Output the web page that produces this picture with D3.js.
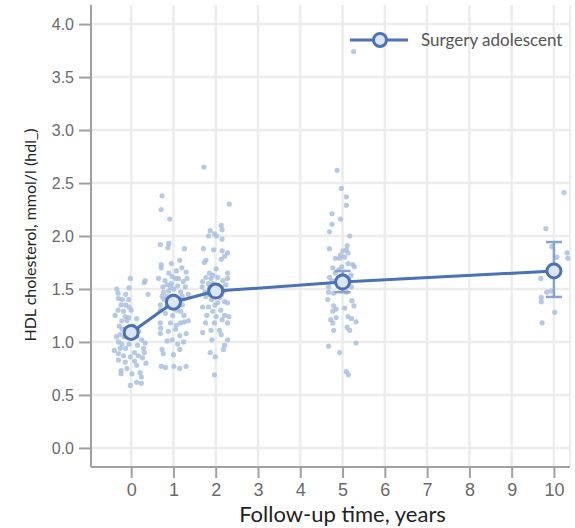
<!DOCTYPE html>
<html>
<head>
<meta charset="utf-8">
<script src="https://cdn.jsdelivr.net/npm/d3@7"></script>
<style>
  html, body { margin: 0; padding: 0; background: #fff; }
  svg { display: block; font-family: "Source Sans Pro", Lato, "Open Sans", sans-serif; }
</style>
</head>
<body>
<svg id="chart" width="575" height="528"></svg>
<script>
// ---- data ----
const times = [0, 1, 2, 5, 10];
const means = [1.09, 1.375, 1.48, 1.565, 1.67];
const ciLow = [1.05, 1.34, 1.44, 1.47, 1.425];
const ciHigh = [1.13, 1.41, 1.52, 1.67, 1.943];
const xTicks = [0, 1, 2, 3, 4, 5, 6, 7, 8, 9, 10];
const yTicks = [0, 0.5, 1, 1.5, 2, 2.5, 3, 3.5, 4];
const seriesName = "Surgery adolescent";

// individual observations: [jitter offset (years), value]
const obs0 = [[-0.02,1.60],[0.33,1.58],[0.31,1.56],[-0.34,1.50],[-0.05,1.51],[-0.31,1.46],[-0.13,1.45],[-0.30,1.41],[-0.06,1.40],[-0.21,1.40],[-0.24,1.35],[-0.13,1.35],[-0.05,1.33],[-0.31,1.30],[-0.18,1.29],[-0.14,1.24],[-0.06,1.23],[0.13,1.22],[-0.22,1.20],[-0.10,1.20],[-0.28,1.15],[-0.21,1.12],[-0.26,1.07],[-0.16,1.05],[0.25,1.02],[0.33,0.99],[-0.30,1.00],[-0.22,0.98],[-0.05,0.98],[-0.26,0.94],[-0.13,0.94],[0.29,0.94],[0.31,0.90],[-0.30,0.89],[0.08,0.90],[-0.18,0.87],[-0.02,0.86],[0.17,0.87],[0.27,0.85],[0.08,0.82],[-0.14,0.81],[0.13,0.78],[-0.24,0.73],[-0.24,0.70],[0.21,0.71],[0.02,0.70],[0.24,0.67],[-0.02,0.59],[0.13,0.62],[0.24,0.61],[-0.38,1.25],[0.05,1.15],[0.18,1.10],[-0.35,1.05],[0.10,1.05],[-0.40,0.92],[0.35,0.80],[-0.10,0.75],[0.00,1.30],[0.40,1.45],[-0.30,0.83],[0.15,0.97]];
const obs1 = [[-0.27,2.38],[-0.29,2.25],[-0.09,2.16],[-0.31,1.92],[-0.11,1.93],[-0.13,1.89],[0.26,1.88],[0.15,1.77],[-0.29,1.73],[-0.29,1.70],[0.07,1.67],[0.30,1.66],[-0.11,1.65],[-0.03,1.62],[0.05,1.60],[0.12,1.60],[0.32,1.60],[0.23,1.57],[-0.15,1.54],[-0.07,1.52],[-0.23,1.47],[-0.11,1.48],[0.01,1.50],[0.17,1.47],[-0.27,1.43],[-0.15,1.43],[0.21,1.43],[-0.31,1.35],[-0.15,1.33],[0.21,1.35],[-0.31,1.30],[-0.19,1.27],[0.17,1.29],[-0.31,1.18],[-0.07,1.18],[0.07,1.16],[0.17,1.18],[0.26,1.19],[-0.31,1.08],[0.30,1.08],[0.15,1.06],[-0.15,1.01],[-0.03,1.02],[0.24,1.00],[-0.27,0.93],[0.15,0.93],[-0.24,0.89],[-0.29,0.77],[-0.19,0.76],[0.01,0.77],[0.15,0.75],[0.30,0.77],[-0.05,1.55],[0.10,1.53],[-0.20,1.58],[0.00,1.42],[0.12,1.40],[-0.08,1.38],[0.28,1.52],[-0.25,1.52],[0.08,1.30],[-0.02,1.25],[0.25,1.25],[-0.22,1.40],[0.35,1.45],[-0.35,1.60],[0.05,1.12],[-0.12,1.10],[0.10,0.98],[-0.30,1.13],[0.20,1.70],[-0.05,1.74],[0.35,1.20],[0.00,0.88]];
const obs2 = [[-0.28,2.65],[0.32,2.30],[0.13,2.10],[0.15,2.06],[-0.13,2.05],[-0.17,2.00],[-0.03,2.02],[0.02,2.00],[0.15,1.97],[-0.29,1.88],[-0.05,1.87],[0.15,1.86],[0.28,1.84],[0.21,1.81],[-0.23,1.77],[0.13,1.78],[-0.27,1.75],[0.01,1.69],[0.28,1.65],[-0.15,1.65],[-0.07,1.63],[-0.23,1.61],[-0.11,1.60],[0.05,1.61],[0.17,1.58],[0.28,1.60],[-0.31,1.57],[-0.17,1.55],[-0.07,1.55],[-0.32,1.52],[0.24,1.54],[-0.15,1.50],[-0.23,1.43],[0.05,1.37],[0.21,1.38],[0.28,1.37],[-0.31,1.33],[-0.17,1.33],[-0.07,1.29],[-0.21,1.25],[0.01,1.24],[0.21,1.25],[0.31,1.24],[0.15,1.21],[-0.03,1.18],[-0.24,1.18],[0.28,1.18],[0.09,1.11],[-0.11,1.11],[-0.31,1.09],[0.13,1.07],[0.28,1.02],[-0.09,1.02],[0.21,0.97],[0.18,0.93],[-0.13,0.90],[-0.01,0.86],[-0.03,0.69],[0.00,1.45],[0.10,1.42],[-0.10,1.40],[0.20,1.48],[-0.25,1.47],[0.08,1.52],[-0.02,1.35],[0.12,1.30]];
const obs5 = [[0.26,3.74],[-0.13,2.62],[-0.03,2.45],[0.09,2.37],[0.09,2.29],[-0.25,2.21],[-0.25,2.11],[-0.05,2.16],[-0.31,2.04],[0.17,2.00],[-0.31,1.88],[0.11,1.91],[0.09,1.87],[0.01,1.86],[-0.05,1.82],[0.13,1.84],[-0.17,1.79],[-0.07,1.79],[0.05,1.80],[0.13,1.74],[0.24,1.73],[-0.23,1.70],[-0.02,1.71],[0.28,1.71],[-0.31,1.61],[-0.17,1.65],[-0.09,1.68],[-0.33,1.52],[0.21,1.52],[-0.33,1.47],[-0.21,1.46],[0.09,1.47],[-0.35,1.40],[0.22,1.39],[0.27,1.34],[-0.21,1.34],[-0.15,1.31],[0.05,1.32],[-0.23,1.29],[-0.15,1.23],[-0.28,1.21],[-0.23,1.18],[0.13,1.24],[0.21,1.22],[0.32,1.19],[0.11,1.14],[0.17,1.11],[-0.21,1.11],[-0.33,0.96],[-0.07,0.90],[0.32,0.99],[0.09,0.72],[0.14,0.69],[0.00,1.62],[0.15,1.60],[-0.10,1.58],[0.20,1.63],[-0.25,1.58],[0.05,1.52]];
const obs10 = [[0.24,2.41],[-0.19,2.07],[-0.05,1.90],[0.07,1.80],[0.31,1.84],[0.33,1.79],[-0.31,1.60],[-0.17,1.47],[-0.07,1.48],[-0.30,1.42],[-0.30,1.38],[0.02,1.28],[-0.28,1.18]];
const observations = [obs0, obs1, obs2, obs5, obs10];

// ---- layout ----
const svg = d3.select("#chart");
const plotL = 91, plotR = 570, plotT = 5, plotB = 467;
const x = d3.scaleLinear().domain([-0.95, 10.38]).range([plotL, plotR]);
const y = d3.scaleLinear().domain([-0.18, 4.18]).range([plotB, plotT]);

const colLine = "#4a72b4";
const colFill = "#dce5f2";
const colPts = "#a9bfe0";
const colErr = "#86a3d0";

// grid
const grid = svg.append("g");
grid.selectAll("line.h").data(yTicks).join("line")
  .attr("x1", plotL).attr("x2", plotR)
  .attr("y1", d => y(d)).attr("y2", d => y(d))
  .attr("stroke", "#ececec").attr("stroke-width", 2.5);
grid.selectAll("line.v").data(xTicks).join("line")
  .attr("x1", d => x(d)).attr("x2", d => x(d))
  .attr("y1", plotT).attr("y2", plotB)
  .attr("stroke", "#ececec").attr("stroke-width", 2.5);
grid.append("line").attr("x1", plotR).attr("x2", plotR).attr("y1", plotT).attr("y2", plotB)
  .attr("stroke", "#ececec").attr("stroke-width", 2);

// observations
const ptsG = svg.append("g");
times.forEach((t, i) => {
  ptsG.selectAll(null).data(observations[i]).join("circle")
    .attr("cx", d => x(t + d[0]))
    .attr("cy", d => y(d[1]))
    .attr("r", 2.6)
    .attr("fill", colPts)
    .attr("fill-opacity", 0.85);
});

// error bars
const errG = svg.append("g").attr("stroke", colErr).attr("stroke-width", 2.5).attr("fill", "none");
times.forEach((t, i) => {
  errG.append("line").attr("x1", x(t)).attr("x2", x(t)).attr("y1", y(ciLow[i])).attr("y2", y(ciHigh[i]));
  [ciLow[i], ciHigh[i]].forEach(v => {
    errG.append("line").attr("x1", x(t) - 8).attr("x2", x(t) + 8).attr("y1", y(v)).attr("y2", y(v));
  });
});

// mean line
const pairs = times.map((t, i) => [t, means[i]]);
svg.append("path").datum(pairs)
  .attr("d", d3.line().x(d => x(d[0])).y(d => y(d[1])))
  .attr("fill", "none").attr("stroke", colLine).attr("stroke-width", 3);
svg.append("g").selectAll("circle").data(pairs).join("circle")
  .attr("cx", d => x(d[0])).attr("cy", d => y(d[1])).attr("r", 7)
  .attr("fill", colFill).attr("stroke", colLine).attr("stroke-width", 3);

// axes
const yAxis = svg.append("g").attr("transform", `translate(${plotL},0)`)
  .call(d3.axisLeft(y).tickValues(yTicks).tickFormat(d3.format(".1f")).tickSize(12).tickPadding(5));
yAxis.select(".domain").attr("d", `M0,${plotT}V${plotB}`);
const xAxis = svg.append("g").attr("transform", `translate(0,${plotB})`)
  .call(d3.axisBottom(x).tickValues(xTicks).tickFormat(d3.format("d")).tickSize(11).tickPadding(5));
xAxis.select(".domain").attr("d", `M${plotL},0H${plotR}`);
[xAxis, yAxis].forEach(a => {
  a.select(".domain").attr("stroke", "#a0a0a0").attr("stroke-width", 2);
  a.selectAll(".tick line").attr("stroke", "#a0a0a0").attr("stroke-width", 2);
  a.selectAll(".tick text").attr("fill", "#6a6a6a").attr("font-family", "inherit");
});
yAxis.selectAll(".tick text").attr("font-size", 16);
xAxis.selectAll(".tick text").attr("font-size", 18);

// axis titles
svg.append("text").attr("x", (plotL + plotR) / 2 + 12).attr("y", 522)
  .attr("text-anchor", "middle").attr("font-size", 22).attr("fill", "#222")
  .text("Follow-up time, years");
svg.append("text").attr("transform", `translate(36,235) rotate(-90)`)
  .attr("text-anchor", "middle").attr("font-size", 16).attr("fill", "#222")
  .text("HDL cholesterol, mmol/l (hdl_)");

// legend
const lg = svg.append("g");
lg.append("line").attr("x1", 350).attr("x2", 408).attr("y1", 40).attr("y2", 40)
  .attr("stroke", colLine).attr("stroke-width", 3);
lg.append("circle").attr("cx", 380).attr("cy", 40).attr("r", 6.5)
  .attr("fill", colFill).attr("stroke", colLine).attr("stroke-width", 3);
lg.append("text").attr("x", 421).attr("y", 46).attr("font-size", 17).attr("fill", "#555")
  .text(seriesName);
</script>
</body>
</html>
